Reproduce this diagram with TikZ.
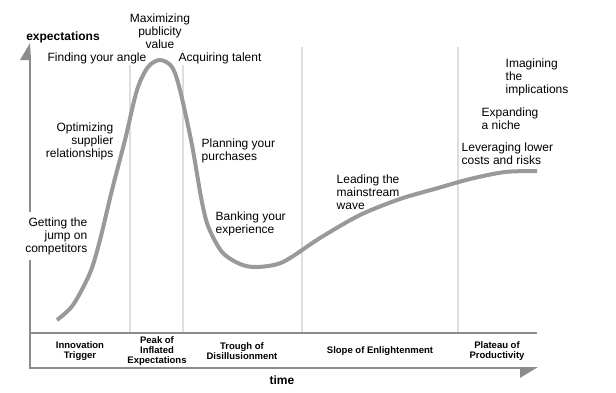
\documentclass[tikz,border=0pt]{standalone}
\usepackage{fontspec}
\setmainfont{Liberation Sans}
\begin{document}
\begin{tikzpicture}[x=1pt,y=-1pt,
  phase/.style={font=\fontsize{9.5}{10}\selectfont\bfseries,align=center,inner sep=0pt},
  tip/.style={font=\fontsize{12}{13}\selectfont,fill=white,inner sep=1.5pt},
  axis/.style={draw=black!45,line width=2pt},
  hype/.style={draw=black!40,line width=4pt,line join=round}]
\useasboundingbox (0,0) rectangle (616,392);
% Reference grid (temporary)
%\draw[help lines,step=20] (0,0) grid (616,392);

% Phase separators
\foreach \x in {130,183,302,458} {
  \draw[black!13,line width=2.5pt] (\x,47) -- (\x,333);
}

% Axes
\draw[axis] (30,55) -- (30,368) -- (522,368);
\draw[axis] (30,333) -- (537,333);
\fill[black!45] (30,43) -- (31,60) -- (20,60) -- cycle;
\fill[black!45] (520,367) -- (538,367) -- (520,378) -- cycle;

% Axis titles
\node[font=\fontsize{12}{13}\selectfont\bfseries] (expect) at (63,37) {expectations};
\node[font=\fontsize{12}{13}\selectfont\bfseries] (time) at (282,380) {time};

% Phases
\node[phase] (trigger) at (80,351) {Innovation\\Trigger};
\node[phase] (peak) at (157,351) {Peak of\\Inflated\\Expectations};
\node[phase] (trough) at (242,351) {Trough of\\Disillusionment};
\node[phase] (slope) at (380,351) {Slope of Enlightenment};
\node[phase] (plateau) at (497,351) {Plateau of\\Productivity};

% Tips along the curve
\node[tip,align=center] (maxpub) at (160,31) {Maximizing\\publicity\\value};
\node[tip] (angle) at (97,58) {Finding your angle};
\node[tip,anchor=west] (talent) at (177,58) {Acquiring talent};
\node[tip,align=right,anchor=east] (supplier) at (115,141) {Optimizing\\supplier\\relationships};
\node[tip,align=left,anchor=west] (purchase) at (200,150.5) {Planning your\\purchases};
\node[tip,align=right,anchor=east,inner ysep=5pt] (jump) at (89,236) {Getting the\\jump on\\competitors};
\node[tip,align=left,anchor=west] (banking) at (214,223.5) {Banking your\\experience};
\node[tip,align=left,anchor=west] (mainstream) at (335,192) {Leading the\\mainstream\\wave};
\node[tip,align=left,anchor=west] (lower) at (460,153.5) {Leveraging lower\\costs and risks};
\node[tip,align=left,anchor=west] (niche) at (480,118.5) {Expanding\\a niche};
\node[tip,align=left,anchor=west] (imagine) at (504,77) {Imagining\\the\\implications};

% Hype curve
\draw[hype] plot[smooth,tension=0.5] coordinates {
  (57,320) (73,305) (90,273) (100,240) (112,190) (125,140) (137,90)
  (148,67) (160,60) (172,67) (180,90) (192,145) (201,197) (208,226)
  (222,252) (240,264) (257,267) (283,262) (320,238) (360,215)
  (400,199) (438,188) (470,179) (505,172) (537,171)};

\end{tikzpicture}
\end{document}
